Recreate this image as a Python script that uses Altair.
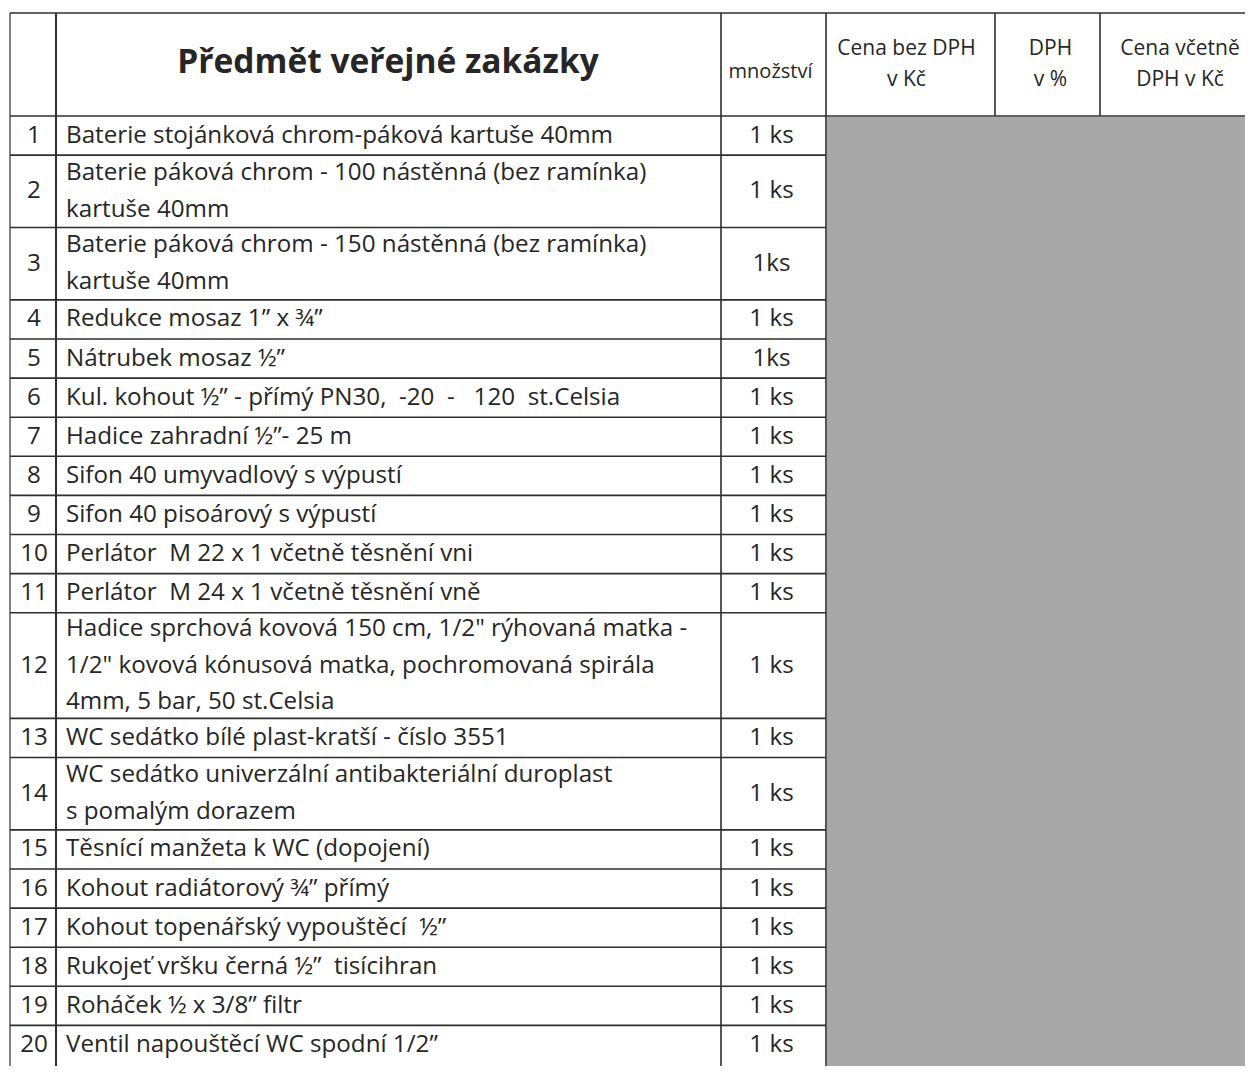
import altair as alt
import pandas as pd

# ---------------- data ----------------
row_numbers = ["1", "2", "3", "4", "5", "6", "7", "8", "9", "10",
               "11", "12", "13", "14", "15", "16", "17", "18", "19", "20"]

descriptions = [
    ["Baterie stojánková chrom-páková kartuše 40mm"],
    ["Baterie páková chrom - 100 nástěnná (bez ramínka)", "kartuše 40mm"],
    ["Baterie páková chrom - 150 nástěnná (bez ramínka)", "kartuše 40mm"],
    ["Redukce mosaz 1\u201d x \u00be\u201d"],
    ["Nátrubek mosaz \u00bd\u201d"],
    ["Kul. kohout \u00bd\u201d - přímý PN30,\u00a0 -20\u00a0 -\u00a0\u00a0 120\u00a0 st.Celsia"],
    ["Hadice zahradní \u00bd\u201d- 25 m"],
    ["Sifon 40 umyvadlový s výpustí"],
    ["Sifon 40 pisoárový s výpustí"],
    ["Perlátor\u00a0 M 22 x 1 včetně těsnění vni"],
    ["Perlátor\u00a0 M 24 x 1 včetně těsnění vně"],
    ["Hadice sprchová kovová 150 cm, 1/2\" rýhovaná matka -",
     "1/2\" kovová kónusová matka, pochromovaná spirála",
     "4mm, 5 bar, 50 st.Celsia"],
    ["WC sedátko bílé plast-kratší - číslo 3551"],
    ["WC sedátko univerzální antibakteriální duroplast", "s pomalým dorazem"],
    ["Těsnící manžeta k WC (dopojení)"],
    ["Kohout radiátorový \u00be\u201d přímý"],
    ["Kohout topenářský vypouštěcí\u00a0 \u00bd\u201d"],
    ["Rukojeť vršku černá \u00bd\u201d\u00a0 tisícihran"],
    ["Roháček \u00bd x 3/8\u201d filtr"],
    ["Ventil napouštěcí WC spodní 1/2\u201d"],
]

quantities = ["1 ks", "1 ks", "1ks", "1 ks", "1ks", "1 ks", "1 ks", "1 ks", "1 ks", "1 ks",
              "1 ks", "1 ks", "1 ks", "1 ks", "1 ks", "1 ks", "1 ks", "1 ks", "1 ks", "1 ks"]

header_title = "Předmět veřejné zakázky"
header_columns = [["množství"], ["Cena bez DPH", "v Kč"], ["DPH", "v %"], ["Cena včetně", "DPH v Kč"]]

# ---------------- layout (styling, not data) ----------------
X_LEFT, X_NUM, X_QTY, X_PRICE, X_DPH, X_TOTAL, X_RIGHT = 10, 56, 721, 826, 995, 1100, 1260
Y_TOP, Y_HEAD = 13, 116
ROW_PAD, ROW_LINE, TEXT_LINE = 5.8, 33.3, 36.5
Y_BOTTOM = 1100
W, H = 1237, 1058
FONT = "Open Sans"
BODY = 24.2
INK = "#262626"
LINE = "#2e2e2e"

# row geometry
tops, bottoms = [], []
y = Y_HEAD
for lines in descriptions:
    h = ROW_PAD + ROW_LINE * len(lines)
    tops.append(y)
    bottoms.append(y + h)
    y += h

body_left, body_center = [], []
for i, lines in enumerate(descriptions):
    mid = (tops[i] + bottoms[i]) / 2
    n = len(lines)
    for k, t in enumerate(lines):
        body_left.append({"x": X_NUM + 10, "y": mid + (k - (n - 1) / 2) * TEXT_LINE, "t": t})
    body_center.append({"x": (X_LEFT + X_NUM) / 2 + 1, "y": mid, "t": row_numbers[i]})
    body_center.append({"x": (X_QTY + X_PRICE) / 2 - 2, "y": mid, "t": quantities[i]})

head_centers = [(X_QTY + X_PRICE) / 2 - 3, (X_PRICE + X_DPH) / 2 - 4,
                (X_DPH + X_TOTAL) / 2 + 3, 1180]
head_sizes = [20, 21, 21, 21]
head_text = []
for cx, sz, lines in zip(head_centers, head_sizes, header_columns):
    if len(lines) == 1:
        head_text.append({"x": cx, "y": 72, "t": lines[0], "s": sz})
    else:
        head_text.append({"x": cx, "y": 48.5, "t": lines[0], "s": sz})
        head_text.append({"x": cx, "y": 79.5, "t": lines[1], "s": sz})

hlines = [{"x": X_LEFT, "x2": X_RIGHT, "y": Y_TOP},
          {"x": X_LEFT, "x2": X_RIGHT, "y": Y_HEAD}]
for b in bottoms[:-1]:
    hlines.append({"x": X_LEFT, "x2": X_PRICE, "y": b})

vlines = [{"x": X_LEFT, "y": Y_TOP, "y2": Y_BOTTOM, "w": 1.2},
          {"x": X_NUM, "y": Y_TOP, "y2": Y_BOTTOM, "w": 2.0},
          {"x": X_QTY, "y": Y_TOP, "y2": Y_BOTTOM, "w": 1.6},
          {"x": X_PRICE, "y": Y_TOP, "y2": Y_BOTTOM, "w": 1.6},
          {"x": X_DPH, "y": Y_TOP, "y2": Y_HEAD, "w": 1.6},
          {"x": X_TOTAL, "y": Y_TOP, "y2": Y_HEAD, "w": 1.6}]

redacted = [{"x": X_PRICE + 1, "x2": X_RIGHT, "y": Y_HEAD + 1, "y2": Y_BOTTOM}]

xs = alt.Scale(domain=[8, 8 + W], nice=False, zero=False)
ys = alt.Scale(domain=[8, 8 + H], nice=False, zero=False, reverse=True)
X = lambda f="x": alt.X(f"{f}:Q", scale=xs, axis=None)
Y = lambda f="y": alt.Y(f"{f}:Q", scale=ys, axis=None)

grey = alt.Chart(pd.DataFrame(redacted)).mark_rect(color="#a8a8a8", clip=True).encode(
    x=X(), x2="x2:Q", y=Y(), y2="y2:Q")

hrule = alt.Chart(pd.DataFrame(hlines)).mark_rule(color=LINE, strokeWidth=1.6, clip=True).encode(
    x=X(), x2="x2:Q", y=Y())

vrule = alt.Chart(pd.DataFrame(vlines)).mark_rule(color=LINE, clip=True).encode(
    x=X(), y=Y(), y2="y2:Q", strokeWidth=alt.StrokeWidth("w:Q", scale=None))

left_txt = alt.Chart(pd.DataFrame(body_left)).mark_text(
    align="left", baseline="middle", font=FONT, fontSize=BODY, color=INK, clip=True).encode(
    x=X(), y=Y(), text="t:N")

center_txt = alt.Chart(pd.DataFrame(body_center)).mark_text(
    align="center", baseline="middle", font=FONT, fontSize=BODY, color=INK, clip=True).encode(
    x=X(), y=Y(), text="t:N")

head_txt = alt.Chart(pd.DataFrame(head_text)).mark_text(
    align="center", baseline="middle", font=FONT, color=INK, clip=True).encode(
    x=X(), y=Y(), text="t:N", size=alt.Size("s:Q", scale=None))

title_txt = alt.Chart(pd.DataFrame([{"x": 388, "y": 63, "t": header_title}])).mark_text(
    align="center", baseline="middle", font=FONT, fontSize=33.5, fontWeight="bold",
    color=INK, clip=True).encode(x=X(), y=Y(), text="t:N")

chart = alt.layer(grey, hrule, vrule, left_txt, center_txt, head_txt, title_txt).properties(
    width=W, height=H, padding=0,
    autosize=alt.AutoSizeParams(type="none"),
    background="white",
).configure_view(strokeWidth=0)

chart.save("out.html", embed_options={"renderer": "svg", "actions": False})
